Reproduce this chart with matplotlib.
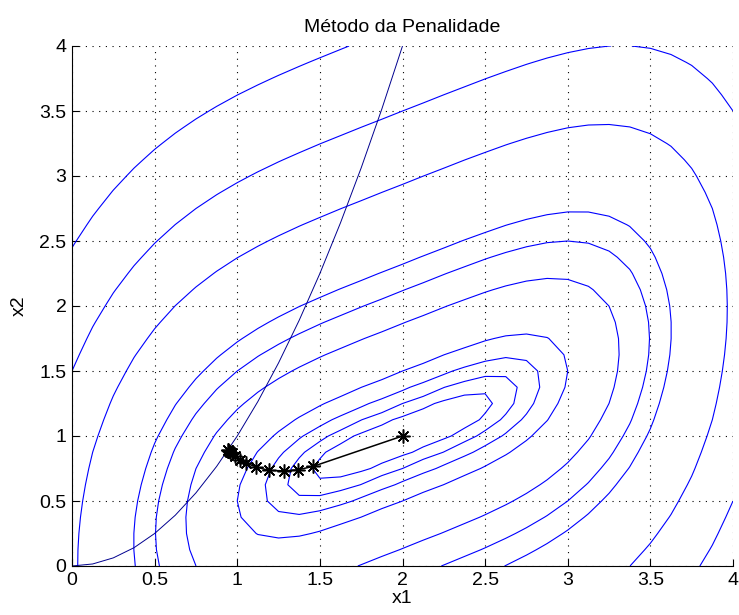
import numpy as np
import matplotlib
matplotlib.use("Agg")
import matplotlib.pyplot as plt
from matplotlib.ticker import FuncFormatter

plt.rcParams['font.family'] = ['Liberation Sans', 'DejaVu Sans']

# grade usada nas curvas de nível (passo 0.125)
x1_grid = np.arange(0, 4.0001, 0.125)
x2_grid = np.arange(0, 4.0001, 0.125)

# níveis das curvas de f
levels = [0.1, 0.25, 0.5, 1, 3, 5, 7, 15, 25, 40]

# iterações do método da penalidade
traj_x1 = [2.0, 1.458, 1.368, 1.281, 1.192, 1.116, 1.051, 1.015, 0.985,
           0.966, 0.955, 0.949, 0.946, 0.9456]
traj_x2 = [1.0, 0.766, 0.740, 0.732, 0.735, 0.761, 0.792, 0.817, 0.843,
           0.866, 0.880, 0.888, 0.892, 0.894]

ticks = [0, 0.5, 1, 1.5, 2, 2.5, 3, 3.5, 4]

X1, X2 = np.meshgrid(x1_grid, x2_grid)
F = (X1 - 2) ** 4 + (X1 - 2 * X2) ** 2
H = X1 ** 2 - X2

fig = plt.figure(figsize=(7.39, 6.15), dpi=100)
ax = fig.add_axes([72 / 739, 1 - 566 / 615, (733 - 72) / 739, (566 - 46) / 615])

ax.contour(X1, X2, F, levels=levels, colors=[(0, 0, 1)], linewidths=0.8)
ax.contour(X1, X2, H, levels=[0], colors=[(0, 0, 0.5625)], linewidths=0.7)

ax.plot(traj_x1, traj_x2, '-', color='k', linewidth=1.1,
        marker=(8, 2, 0), markersize=10, markeredgewidth=1.1)

ax.set_xlim(0, 4)
ax.set_ylim(0, 4)
ax.set_xticks(ticks)
ax.set_yticks(ticks)
fmt = FuncFormatter(lambda v, p: ('%g' % v))
ax.xaxis.set_major_formatter(fmt)
ax.yaxis.set_major_formatter(fmt)
ax.tick_params(direction='in', length=5, labelsize=14, top=False, right=False)
ax.tick_params(axis='x', pad=4)
ax.tick_params(axis='y', pad=4)
ax.spines['top'].set_visible(False)
ax.spines['right'].set_visible(False)
ax.grid(True, color='k', linestyle=(0, (1, 5)), linewidth=0.8)

ax.set_title('Método da Penalidade', fontsize=14, pad=10)
ax.set_xlabel('x1', fontsize=14, labelpad=1)
ax.set_ylabel('x2', fontsize=14, labelpad=8)

fig.savefig('out.png', dpi=100)
